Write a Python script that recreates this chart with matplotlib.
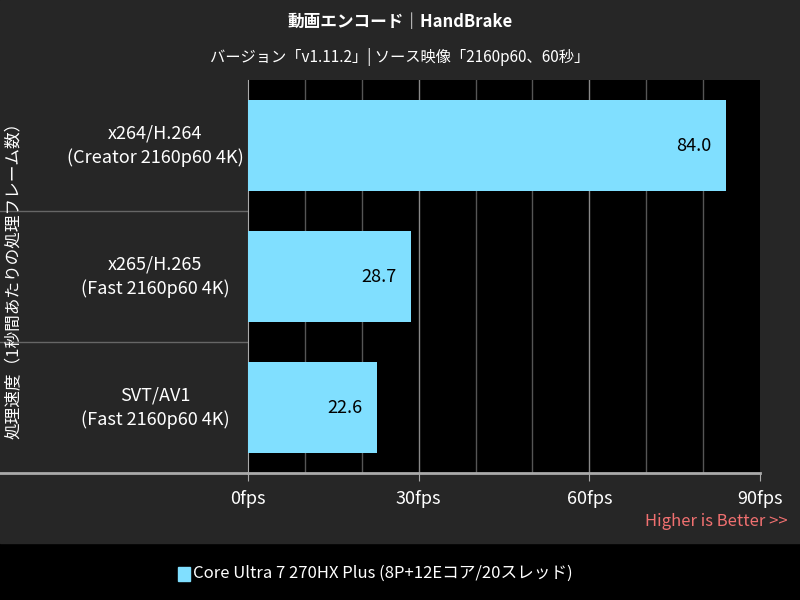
import matplotlib
matplotlib.use("Agg")
import matplotlib.pyplot as plt
from matplotlib.patches import Rectangle
from matplotlib.lines import Line2D

plt.rcParams['font.family'] = ['Noto Sans CJK JP', 'DejaVu Sans']

categories = ["x264/H.264\n(Creator 2160p60 4K)", "x265/H.265\n(Fast 2160p60 4K)", "SVT/AV1\n(Fast 2160p60 4K)"]
values = [84.0, 28.7, 22.6]
ticks = [0, 30, 60, 90]
tick_labels = ["0fps", "30fps", "60fps", "90fps"]
series_name = "Core Ultra 7 270HX Plus (8P+12Eコア/20スレッド)"
title = "動画エンコード｜HandBrake"
subtitle = "バージョン「v1.11.2」| ソース映像「2160p60、60秒」"
ylabel = "処理速度（1秒間あたりの処理フレーム数）"

bar_color = "#80dfff"
fig = plt.figure(figsize=(8, 6), dpi=100, facecolor="black")
fig.add_artist(Rectangle((0, 57/600), 1, 543/600, transform=fig.transFigure, color="#262626", zorder=-10))

L, R, T, B = 248/800, 760/800, 1-80/600, 1-473/600
ax = fig.add_axes([L, B, R-L, T-B])
ax.set_zorder(5)
ax.set_facecolor("black")
n = len(categories)
ypos = list(range(n))
ax.barh(ypos, values, height=0.7, color=bar_color, zorder=3)
ax.set_ylim(n-0.5, -0.5)
ax.set_xlim(0, 90)
for v in range(10, 90, 10):
    ax.axvline(v, color="#555555" if v % 30 else "#888888", lw=1, zorder=1)
for y, v in zip(ypos, values):
    ax.text(v - 2.5, y, f"{v:.1f}", ha="right", va="center", fontsize=13, color="black", zorder=4)
ax.set_xticks(ticks)
ax.set_xticklabels(tick_labels, color="white", fontsize=13)
ax.tick_params(axis="x", length=6, color="#aaaaaa", pad=6)
ax.set_yticks([])
for s in ["top", "right"]:
    ax.spines[s].set_visible(False)
ax.spines["bottom"].set_color("#aaaaaa")
ax.spines["bottom"].set_linewidth(2)
ax.spines["left"].set_color("#aaaaaa")

for i, c in enumerate(categories):
    yc = T - (i + 0.5) * (T - B) / n
    fig.text(155/800, yc, c, ha="center", va="center", color="white", fontsize=13, linespacing=1.4)
    if i > 0:
        ys = T - i * (T - B) / n
        fig.add_artist(Line2D([0, L], [ys, ys], transform=fig.transFigure, color="#666666", lw=1))
fig.add_artist(Line2D([0, L], [B, B], transform=fig.transFigure, color="#aaaaaa", lw=2))

fig.text(0.5, 1-22/600, title, ha="center", va="center", color="white", fontsize=12, fontweight="bold")
fig.text(0.5, 1-57/600, subtitle, ha="center", va="center", color="white", fontsize=11)
fig.text(14/800, (T+B)/2, ylabel, rotation=90, ha="center", va="center", color="white", fontsize=12)
fig.text(788/800, 1-522/600, "Higher is Better >>", ha="right", va="center", color="#f07070", fontsize=12)

fig.add_artist(Rectangle((178/800, 1-581/600), 12/800, 14/600, transform=fig.transFigure, color=bar_color))
fig.text(193/800, 1-573/600, series_name, ha="left", va="center", color="white", fontsize=12)

fig.savefig("out.png", dpi=100, facecolor="black")
